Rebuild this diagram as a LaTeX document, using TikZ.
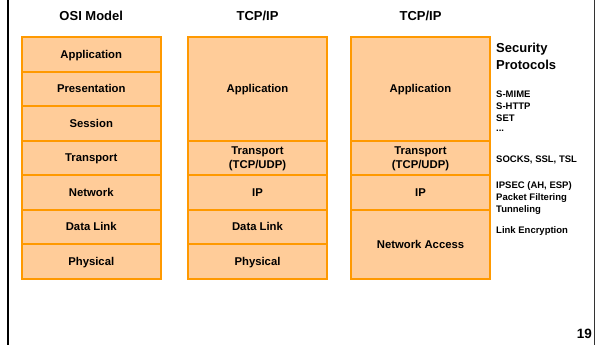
\documentclass[tikz,border=0pt]{standalone}
\usepackage{fontspec}
\setmainfont{Liberation Sans}
\definecolor{layerfill}{HTML}{FFCC99}
\definecolor{layerline}{HTML}{FF9900}
\begin{document}
\begin{tikzpicture}[x=1pt,y=-1pt,
  layer/.style={draw=layerline, fill=layerfill, line width=2pt,
    minimum width=139pt, inner sep=0pt, align=center,
    text height=8.3pt, text depth=0pt,
    font=\fontsize{11.3}{14}\selectfont\bfseries},
  twoline/.style={text height=, text depth=0pt},
  head/.style={font=\fontsize{13}{15}\selectfont\bfseries},
  proto/.style={anchor=base west, inner sep=0pt,
    font=\fontsize{9.5}{12}\selectfont\bfseries}]
\useasboundingbox (0,0) rectangle (596,345);
% slide frame edges
\draw[line width=2.5pt] (8,0) -- (8,345);
\draw[line width=0.8pt, black!80] (594.6,0) -- (594.6,345);

% column headings
\node[head] (h1) at (91.25,15.5) {OSI Model};
\node[head] (h2) at (257.5,15.5) {TCP/IP};
\node[head] (h3) at (420.5,15.5) {TCP/IP};

% OSI model
\node[layer, minimum height=34.5pt] (o7) at (91.25,54.25)  {Application};
\node[layer, minimum height=34.5pt] (o6) at (91.25,88.75)  {Presentation};
\node[layer, minimum height=34.5pt] (o5) at (91.25,123.25) {Session};
\node[layer, minimum height=34.5pt] (o4) at (91.25,157.75) {Transport};
\node[layer, minimum height=34.5pt] (o3) at (91.25,192.25) {Network};
\node[layer, minimum height=34.5pt] (o2) at (91.25,226.75) {Data Link};
\node[layer, minimum height=34.5pt] (o1) at (91.25,261.25) {Physical};

% TCP/IP with five layers
\node[layer, minimum height=103.5pt] (t5) at (257.5,88.75)  {Application};
\node[layer, twoline, minimum height=34.5pt] (t4) at (257.5,157.75) {Transport\\(TCP/UDP)};
\node[layer, minimum height=34.5pt]  (t3) at (257.5,192.25) {IP};
\node[layer, minimum height=34.5pt]  (t2) at (257.5,226.75) {Data Link};
\node[layer, minimum height=34.5pt]  (t1) at (257.5,261.25) {Physical};

% TCP/IP with four layers
\node[layer, minimum height=103.5pt] (s4) at (420.5,88.75)  {Application};
\node[layer, twoline, minimum height=34.5pt] (s3) at (420.5,157.75) {Transport\\(TCP/UDP)};
\node[layer, minimum height=34.5pt]  (s2) at (420.5,192.25) {IP};
\node[layer, minimum height=69pt]    (s1) at (420.5,244)    {Network Access};

% security protocols per layer
\node[proto, font=\fontsize{13}{15}\selectfont\bfseries] (p1) at (496,52.5) {Security};
\node[proto, font=\fontsize{13}{15}\selectfont\bfseries] (p2) at (496,69) {Protocols};
\node[proto] (p3)  at (496,97)    {S-MIME};
\node[proto] (p4)  at (496,109)   {S-HTTP};
\node[proto] (p5)  at (496,121)   {SET};
\node[proto] (p6)  at (496,131.5) {...};
\node[proto] (p7)  at (496,162.5) {SOCKS, SSL, TSL};
\node[proto] (p8)  at (496,188.5) {IPSEC (AH, ESP)};
\node[proto] (p9)  at (496,200.5) {Packet Filtering};
\node[proto] (p10) at (496,212.5) {Tunneling};
\node[proto] (p11) at (496,233.5) {Link Encryption};

% page number
\node[anchor=base east, inner sep=0pt, font=\fontsize{13.5}{15}\selectfont\bfseries] (pg) at (592,338) {19};
\end{tikzpicture}
\end{document}
